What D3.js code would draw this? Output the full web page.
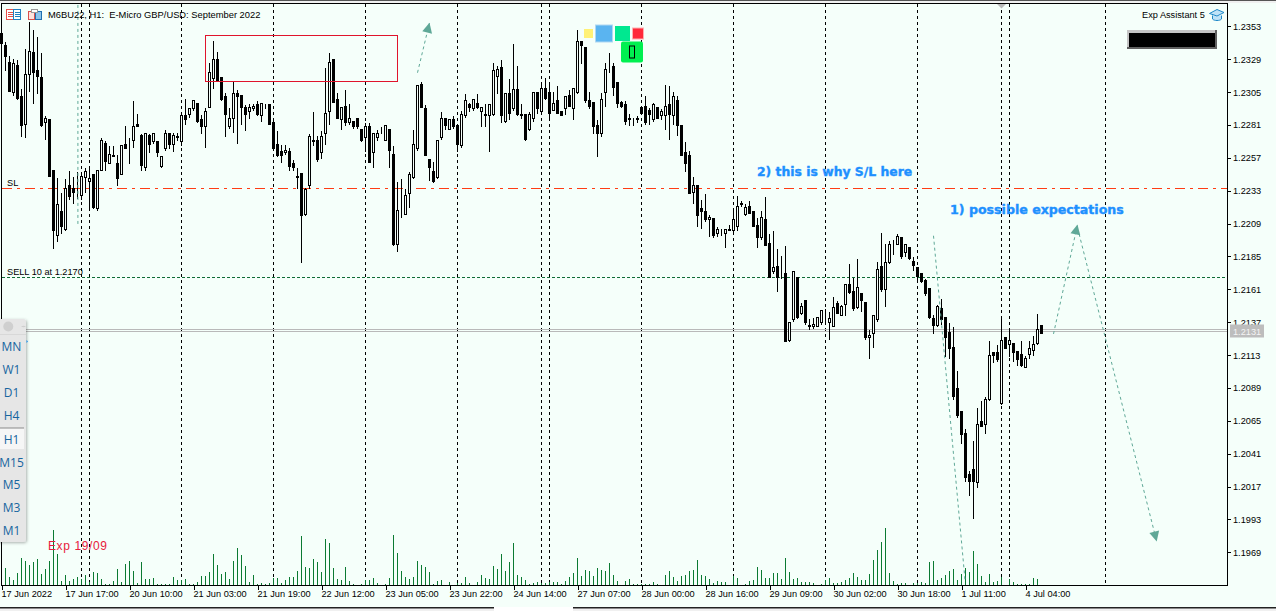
<!DOCTYPE html>
<html>
<head>
<meta charset="utf-8">
<script src="https://cdn.jsdelivr.net/npm/d3@7"></script>
<style>
  html, body { margin: 0; padding: 0; background: #f5fffa; overflow: hidden; }
  text { font-family: "Liberation Sans", sans-serif; }
</style>
</head>
<body>
<div id="chart"></div>
<script>
// Prices are in points (1 point = 0.0001), one entry per H1 bar
const opens = [
  12348,12339,12327,12305,12325,12302,12282,12318,12334,12321,
  12316,12283,12285,12248,12201,12218,12205,12237,12235,12232,
  12230,12243,12240,12245,12220,12248,12268,12253,12259,12253,
  12245,12267,12265,12270,12282,12274,12250,12274,12269,12269,
  12251,12264,12275,12267,12273,12269,12288,12289,12293,12297,
  12285,12280,12294,12315,12329,12316,12302,12280,12286,12304,
  12303,12294,12291,12293,12296,12288,12295,12296,12283,12267,
  12262,12261,12262,12253,12244,12246,12216,12237,12270,12270,
  12261,12275,12291,12329,12300,12285,12295,12283,12284,12286,
  12278,12272,12280,12261,12272,12277,12270,12278,12260,12194,
  12219,12216,12231,12243,12264,12311,12293,12256,12247,12243,
  12272,12286,12278,12285,12281,12266,12288,12296,12293,12297,
  12291,12289,12288,12289,12317,12323,12284,12304,12293,12307,
  12289,12289,12278,12286,12305,12291,12308,12305,12292,12299,
  12291,12293,12303,12293,12305,12342,12338,12299,12298,12281,
  12275,12305,12323,12324,12312,12298,12296,12286,12284,12286,
  12294,12295,12292,12285,12294,12288,12288,12296,12288,12299,
  12281,12261,12259,12232,12237,12220,12218,12212,12213,12202,
  12204,12202,12205,12204,12207,12224,12216,12222,12218,12208,
  12199,12212,12195,12174,12178,12170,12173,12124,12139,12170,
  12144,12153,12135,12134,12134,12137,12143,12137,12134,12151,
  12142,12150,12165,12160,12148,12158,12152,12126,12129,12139,
  12178,12161,12181,12194,12194,12199,12188,12192,12182,12177,
  12173,12168,12162,12140,12135,12147,12141,12130,12119,12089,
  12072,12056,12026,12030,12020,12065,12063,12081,12115,12115,
  12078,12126,12121,12122,12116,12114,12104,12114,12117,12122,12135
];
const highs = [
  12350,12342,12332,12330,12329,12308,12337,12357,12351,12346,
  12334,12288,12285,12248,12243,12232,12242,12248,12244,12247,
  12247,12250,12250,12245,12248,12272,12270,12266,12266,12260,
  12266,12281,12272,12299,12290,12275,12275,12275,12276,12270,
  12259,12278,12276,12276,12276,12289,12301,12294,12300,12298,
  12289,12294,12327,12343,12335,12316,12305,12294,12314,12307,
  12303,12296,12297,12297,12299,12297,12297,12296,12287,12277,
  12267,12267,12265,12256,12250,12246,12236,12275,12291,12274,
  12277,12323,12334,12329,12305,12294,12307,12297,12284,12286,
  12278,12283,12283,12276,12278,12280,12281,12278,12266,12240,
  12242,12235,12247,12278,12310,12313,12296,12256,12255,12270,
  12291,12286,12285,12288,12281,12292,12304,12298,12301,12304,
  12295,12297,12296,12327,12325,12329,12304,12315,12341,12325,
  12297,12289,12291,12305,12305,12312,12316,12311,12306,12310,
  12291,12302,12307,12308,12351,12342,12338,12306,12298,12285,
  12305,12327,12334,12327,12312,12299,12299,12290,12287,12288,
  12295,12303,12294,12298,12294,12293,12311,12310,12306,12303,
  12281,12269,12263,12244,12237,12227,12231,12216,12213,12207,
  12206,12205,12209,12219,12230,12226,12224,12226,12218,12214,
  12219,12229,12202,12204,12191,12186,12193,12138,12174,12170,
  12152,12154,12140,12141,12141,12146,12147,12145,12156,12153,
  12150,12165,12180,12170,12184,12158,12152,12132,12142,12182,
  12203,12195,12197,12198,12202,12199,12195,12192,12185,12177,
  12173,12169,12162,12143,12150,12155,12141,12137,12134,12102,
  12072,12060,12029,12051,12075,12080,12083,12124,12115,12121,
  12142,12127,12133,12122,12116,12124,12113,12124,12128,12144,12135
];
const lows = [
  12340,12321,12306,12303,12300,12273,12272,12306,12297,12304,
  12280,12271,12244,12191,12196,12202,12204,12227,12224,12228,
  12227,12232,12220,12220,12219,12248,12248,12253,12258,12237,
  12245,12264,12253,12265,12280,12248,12248,12261,12268,12258,
  12250,12263,12264,12262,12270,12266,12282,12287,12292,12283,
  12275,12265,12294,12308,12314,12299,12273,12279,12276,12268,
  12282,12277,12286,12292,12288,12284,12293,12282,12264,12258,
  12254,12260,12248,12248,12235,12181,12215,12235,12266,12255,
  12257,12267,12282,12298,12286,12278,12281,12282,12279,12279,
  12269,12262,12254,12250,12270,12275,12270,12250,12193,12189,
  12214,12216,12221,12242,12263,12294,12259,12241,12239,12242,
  12271,12278,12278,12279,12262,12265,12287,12291,12292,12293,
  12280,12280,12262,12288,12304,12283,12283,12285,12292,12288,
  12286,12270,12277,12284,12290,12290,12300,12285,12292,12290,
  12288,12289,12295,12285,12304,12326,12298,12293,12275,12258,
  12273,12295,12320,12303,12294,12294,12282,12281,12281,12283,
  12289,12282,12282,12284,12286,12285,12278,12271,12282,12274,
  12259,12247,12231,12224,12207,12206,12211,12200,12199,12200,
  12201,12192,12204,12203,12204,12222,12215,12217,12207,12192,
  12198,12193,12170,12173,12160,12169,12123,12123,12138,12140,
  12143,12136,12132,12133,12134,12136,12136,12125,12134,12144,
  12142,12142,12158,12146,12147,12145,12125,12111,12119,12138,
  12160,12149,12180,12187,12194,12184,12185,12183,12175,12167,
  12166,12157,12140,12129,12134,12136,12112,12111,12081,12068,
  12049,12021,12011,11994,12017,12061,12056,12080,12108,12109,
  12077,12118,12112,12109,12106,12105,12104,12111,12113,12121,12129
];
const closes = [
  12341,12331,12306,12326,12301,12281,12318,12335,12320,12317,
  12281,12286,12244,12204,12223,12207,12235,12229,12232,12232,
  12244,12247,12242,12221,12248,12270,12255,12260,12258,12242,
  12266,12264,12265,12280,12280,12252,12275,12267,12275,12261,
  12258,12275,12267,12274,12272,12288,12285,12293,12299,12284,
  12280,12291,12320,12329,12314,12300,12289,12286,12304,12302,
  12294,12289,12294,12295,12289,12297,12295,12282,12264,12259,
  12259,12263,12251,12250,12243,12215,12234,12273,12269,12256,
  12273,12290,12327,12298,12286,12294,12283,12286,12280,12280,
  12270,12280,12254,12275,12275,12277,12281,12263,12194,12219,
  12219,12230,12245,12267,12310,12294,12259,12250,12240,12270,
  12286,12281,12285,12280,12267,12289,12299,12294,12300,12294,
  12294,12288,12296,12321,12322,12288,12304,12290,12307,12289,
  12288,12271,12289,12305,12293,12308,12301,12290,12297,12290,
  12288,12302,12295,12308,12342,12339,12299,12295,12280,12275,
  12300,12322,12323,12309,12297,12295,12284,12285,12284,12285,
  12290,12283,12289,12296,12286,12291,12295,12289,12302,12281,
  12259,12253,12231,12237,12215,12218,12212,12214,12201,12205,
  12204,12205,12204,12212,12222,12223,12221,12217,12207,12199,
  12214,12193,12170,12177,12170,12170,12123,12137,12174,12141,
  12149,12137,12134,12136,12141,12146,12143,12140,12148,12144,
  12149,12165,12159,12147,12163,12153,12126,12128,12142,12176,
  12161,12181,12194,12194,12200,12185,12194,12184,12179,12171,
  12167,12158,12141,12135,12149,12139,12126,12118,12083,12069,
  12055,12024,12021,12021,12063,12061,12081,12113,12113,12110,
  12124,12118,12124,12115,12110,12106,12111,12118,12121,12132,12129
];
const volumes = [
  0,17,8,5,12,27,24,20,23,26,
  11,16,24,55,31,4,10,4,6,8,
  6,10,3,13,12,6,1,1,4,16,
  3,21,24,14,2,23,6,6,7,1,
  1,1,1,8,5,5,6,1,1,3,
  9,9,13,31,20,11,13,6,24,37,
  30,19,3,10,1,2,1,2,7,7,
  2,5,8,8,14,49,18,17,26,23,
  13,46,42,17,6,5,18,4,1,0,
  1,5,5,7,2,0,1,7,50,32,
  14,8,6,8,24,20,18,13,1,4,
  5,0,3,0,2,2,8,2,0,3,
  10,7,6,19,16,31,14,23,42,10,
  8,5,1,2,3,2,2,3,3,3,
  1,4,8,12,27,9,15,14,9,17,
  15,14,22,10,4,0,4,6,1,1,
  1,1,1,3,1,0,10,14,8,4,
  9,10,14,15,25,10,9,6,2,4,
  3,3,0,9,7,0,1,4,5,18,
  15,7,7,12,12,6,27,13,6,7,
  3,3,3,2,0,1,5,7,2,2,
  3,5,7,12,8,5,5,11,25,35,
  43,57,12,4,1,2,2,0,2,2,
  3,2,23,24,5,7,10,14,16,5,
  11,17,13,34,21,9,3,11,3,4,
  8,0,6,3,1,1,1,1,7,6,0
];

// Axis labels
const timeTicks = ["17 Jun 2022", "17 Jun 17:00", "20 Jun 10:00", "21 Jun 03:00", "21 Jun 19:00",
  "22 Jun 12:00", "23 Jun 05:00", "23 Jun 22:00", "24 Jun 14:00", "27 Jun 07:00", "28 Jun 00:00",
  "28 Jun 16:00", "29 Jun 09:00", "30 Jun 02:00", "30 Jun 18:00", "1 Jul 11:00", "4 Jul 04:00"];
const priceTicks = [1.2353, 1.2329, 1.2305, 1.2281, 1.2257, 1.2233, 1.2209, 1.2185,
  1.2161, 1.2137, 1.2113, 1.2089, 1.2065, 1.2041, 1.2017, 1.1993, 1.1969];

// Period separators, as bar numbers
const separators = [20, 22, 45, 68, 91, 114, 135, 137, 160, 183, 206, 229, 250, 252, 276];

// Levels and drawn objects, in bar number / price
const slPrice = 1.2235;
const sellPrice = 1.2170;
const lastPrice = 1.2131;
const boxBars = [51, 99];
const boxPrices = [1.23466, 1.2313];
const plainLine = [[19.1, 1.23686], [19.1, 1.22079]];
const dropLine = [[233, 1.22001], [240.9, 1.19481]];
const arrows = [
  [[104, 1.23191], [107, 1.23556]],
  [[263, 1.21284], [269, 1.22083]],
  [[269.4, 1.22014], [288.8, 1.19769]]
];

// Palette
const bg = "#f5fffa";
const volumeGreen = "#0b7a32";
const sellGreen = "#0f6b35";
const slRed = "#ff3c14";
const boxRed = "#e0142c";
const teal = "#5fa897";
const noteBlue = "#1e90ff";
const tfBlue = "#17659f";

const width = 1276;
const height = 611;
const frame = { left: 1.5, right: 1227.5, top: 3.5, bottom: 585.5 };
const labelSize = 9.2;

const svg = d3.select("#chart").append("svg")
  .attr("width", width)
  .attr("height", height)
  .style("display", "block");

// Scales
const x = d3.scaleLinear().domain([0, 1]).range([1.5, 5.5]);
const price = d3.scaleLinear().domain([1.2353, 1.1969]).range([26.3, 552.3]);
const vol = d3.scaleLinear().domain([0, d3.max(volumes)]).range([585, 585 - d3.max(volumes)]);
const row = (p) => Math.round(price(p)) + 0.5;

const bars = opens.map((o, i) => ({
  i: i, o: o / 10000, h: highs[i] / 10000, l: lows[i] / 10000, c: closes[i] / 10000, v: volumes[i]
}));

// Chrome around the plot
svg.append("rect").attr("width", width).attr("height", height).attr("fill", bg);
svg.append("rect").attr("width", width).attr("height", 3).attr("fill", "#f0f0f0");
svg.append("rect").attr("width", width).attr("height", 1).attr("fill", "#555");
svg.append("rect").attr("y", 608).attr("width", width).attr("height", 3).attr("fill", "#f0f0f0");
svg.append("rect").attr("y", 607).attr("width", 494).attr("height", 1.5).attr("fill", "#222");
svg.append("rect").attr("x", 573).attr("y", 607).attr("width", width - 573).attr("height", 1.5).attr("fill", "#222");
svg.append("rect").attr("x", 494).attr("y", 607).attr("width", 79).attr("height", 4).attr("fill", "#fff");

const plot = svg.append("g").attr("shape-rendering", "crispEdges");

// Separators
plot.append("g").selectAll("line")
  .data(separators)
  .enter().append("line")
    .attr("x1", (d) => x(d))
    .attr("x2", (d) => x(d))
    .attr("y1", frame.top)
    .attr("y2", frame.bottom)
    .attr("stroke", "#000")
    .attr("stroke-dasharray", "3 3");

// Levels
plot.append("line")
  .attr("x1", 2).attr("x2", frame.right)
  .attr("y1", row(sellPrice)).attr("y2", row(sellPrice))
  .attr("stroke", sellGreen)
  .attr("stroke-dasharray", "3 2");
plot.append("line")
  .attr("x1", 2).attr("x2", frame.right)
  .attr("y1", row(slPrice)).attr("y2", row(slPrice))
  .attr("stroke", slRed)
  .attr("stroke-dasharray", "10 5 3 5");

// Last price, drawn as a double line
[-1, 1].forEach((off) => {
  plot.append("line")
    .attr("x1", 2).attr("x2", frame.right)
    .attr("y1", row(lastPrice) + off).attr("y2", row(lastPrice) + off)
    .attr("stroke", "#b9b9b9");
});

// Volume
plot.append("g").selectAll("line")
  .data(bars)
  .enter().append("line")
    .attr("x1", (d) => x(d.i))
    .attr("x2", (d) => x(d.i))
    .attr("y1", vol(0))
    .attr("y2", (d) => vol(d.v))
    .attr("stroke", volumeGreen);

// Wicks
const candles = plot.append("g").selectAll("g")
  .data(bars)
  .enter().append("g");

candles.append("line")
  .attr("x1", (d) => x(d.i))
  .attr("x2", (d) => x(d.i))
  .attr("y1", (d) => row(d.h))
  .attr("y2", (d) => row(d.l))
  .attr("stroke", "#000");

// Bodies: bull bars hollow, bear bars solid
candles.append("rect")
  .attr("x", (d) => x(d.i) - 1)
  .attr("width", 2)
  .attr("y", (d) => row(Math.max(d.o, d.c)))
  .attr("height", (d) => row(Math.min(d.o, d.c)) - row(Math.max(d.o, d.c)))
  .attr("fill", (d) => d.c >= d.o ? bg : "#000")
  .attr("stroke", "#000");

// Box on the chart
plot.append("rect")
  .attr("x", x(boxBars[0]))
  .attr("y", row(boxPrices[0]))
  .attr("width", x(boxBars[1]) - x(boxBars[0]))
  .attr("height", row(boxPrices[1]) - row(boxPrices[0]))
  .attr("fill", "none")
  .attr("stroke", boxRed);

// Trend lines and arrows
const tealLine = (pts) => {
  svg.append("path")
    .attr("d", d3.line().x((d) => x(d[0])).y((d) => price(d[1]))(pts))
    .attr("fill", "none")
    .attr("stroke", teal)
    .attr("stroke-width", 1)
    .attr("stroke-dasharray", "3 3");
};
tealLine(plainLine);
tealLine(dropLine);
arrows.forEach((pts) => {
  tealLine(pts);
  let tx = x(pts[1][0]), ty = price(pts[1][1]);
  let a = Math.atan2(ty - price(pts[0][1]), tx - x(pts[0][0]));
  let bx = tx - 10 * Math.cos(a), by = ty - 10 * Math.sin(a);
  let nx = -Math.sin(a) * 5, ny = Math.cos(a) * 5;
  svg.append("path")
    .attr("d", `M${tx},${ty}L${bx + nx},${by + ny}L${bx - nx},${by - ny}Z`)
    .attr("fill", teal);
});

// Axes
const xAxis = d3.axisBottom(x)
  .tickValues(timeTicks.map((d, i) => i * 16))
  .tickFormat((d, i) => timeTicks[i])
  .tickSize(4);
const xG = svg.append("g")
  .attr("transform", `translate(0, ${frame.bottom})`)
  .attr("shape-rendering", "crispEdges")
  .call(xAxis);
xG.select(".domain").remove();
xG.selectAll("text")
  .attr("text-anchor", "start")
  .attr("x", -0.5)
  .attr("y", 5)
  .attr("dy", "0.71em")
  .style("font-size", labelSize + "px")
  .style("font-family", "Liberation Sans")
  .attr("fill", "#000");

const yAxis = d3.axisRight(price)
  .tickValues(priceTicks)
  .tickFormat(d3.format(".4f"))
  .tickSize(3);
const yG = svg.append("g")
  .attr("transform", `translate(${frame.right}, 0)`)
  .attr("shape-rendering", "crispEdges")
  .call(yAxis);
yG.select(".domain").remove();
yG.selectAll("text")
  .attr("x", 5.5)
  .style("font-size", labelSize + "px")
  .style("font-family", "Liberation Sans")
  .attr("fill", "#000");

// Frame
svg.append("rect")
  .attr("x", frame.left)
  .attr("y", frame.top)
  .attr("width", frame.right - frame.left)
  .attr("height", frame.bottom - frame.top)
  .attr("fill", "none")
  .attr("stroke", "#000")
  .attr("shape-rendering", "crispEdges");

// Marker on the top edge
svg.append("path").attr("d", "M997,4L1006,4L1001.5,8.5Z").attr("fill", "#b9b9b9");

// Last price tag
svg.append("rect")
  .attr("x", 1230).attr("y", row(lastPrice) - 6)
  .attr("width", 34).attr("height", 13)
  .attr("fill", "#bdbdbd");
svg.append("text")
  .attr("x", 1233).attr("y", row(lastPrice) + 4)
  .attr("font-size", labelSize)
  .attr("fill", "#f4f4f4")
  .text(d3.format(".4f")(lastPrice));

// Chart labels
const label = (txt, px, py, size, color, weight, family) => svg.append("text")
  .attr("x", px).attr("y", py)
  .attr("font-size", size)
  .attr("fill", color)
  .attr("font-weight", weight || "normal")
  .style("font-family", family || "Liberation Sans")
  .text(txt);

label("M6BU22, H1:  E-Micro GBP/USD: September 2022", 48, 18, 9.35, "#000").style("white-space", "pre");
label("Exp Assistant 5", 1142, 18, labelSize, "#000");
label("SL", 7, 186, labelSize, "#000");
label("SELL 10 at 1.2170", 7, 275, labelSize, "#000");
label("Exp 19/09", 48, 550, 12, "#e8203c").style("letter-spacing", "0.6px");
label("2) this is why S/L here", 757, 176, 12.4, noteBlue, "bold", "DejaVu Sans")
  .attr("stroke", noteBlue).attr("stroke-width", 0.4);
label("1) possible expectations", 950, 214, 12.6, noteBlue, "bold", "DejaVu Sans")
  .attr("stroke", noteBlue).attr("stroke-width", 0.4);

// Top-left toolbar icons
const icons = svg.append("g").attr("shape-rendering", "crispEdges");
icons.append("rect").attr("x", 6.5).attr("y", 9.5).attr("width", 7).attr("height", 10).attr("fill", "#fff").attr("stroke", "#e8504a");
icons.append("rect").attr("x", 13.5).attr("y", 9.5).attr("width", 7).attr("height", 10).attr("fill", "#fff").attr("stroke", "#2080c0");
[12.5, 14.5, 16.5].forEach((py) => {
  icons.append("line").attr("x1", 8).attr("x2", 13).attr("y1", py).attr("y2", py).attr("stroke", "#e8504a");
  icons.append("line").attr("x1", 15).attr("x2", 20).attr("y1", py).attr("y2", py).attr("stroke", "#2080c0");
});
icons.append("rect").attr("x", 28.5).attr("y", 11.5).attr("width", 6).attr("height", 8).attr("fill", "#fde2dc").attr("stroke", "#d8504a");
icons.append("rect").attr("x", 35.5).attr("y", 11.5).attr("width", 6).attr("height", 8).attr("fill", "#8cc4ea").attr("stroke", "#1f70b0");
icons.append("rect").attr("x", 31.5).attr("y", 9.5).attr("width", 6).attr("height", 3).attr("fill", "#fff").attr("stroke", "#9a9a9a");

// Assistant hat and black panel
svg.append("path")
  .attr("d", "M1209.5,13.5L1217,9.5L1224,12.5L1217,16Z M1212.5,15.5V19C1214,21 1220,21 1221.5,19V15.5")
  .attr("fill", "#bfe3f7").attr("stroke", "#1e88c8").attr("stroke-width", 1);
svg.append("rect").attr("x", 1127).attr("y", 30).attr("width", 90).attr("height", 19).attr("fill", "#606060");
svg.append("rect").attr("x", 1127).attr("y", 30).attr("width", 88).attr("height", 17).attr("fill", "#c4c4c4");
svg.append("rect").attr("x", 1129).attr("y", 33).attr("width", 86).attr("height", 14).attr("fill", "#000");

// Coloured buttons
const btn = (bx, by, w, h, fill, edge, r) => svg.append("rect")
  .attr("x", bx).attr("y", by).attr("width", w).attr("height", h)
  .attr("rx", r || 0)
  .attr("fill", fill).attr("stroke", edge || "none");
btn(584, 29, 9, 9, "#fff176");
btn(595.5, 25, 17, 17, "#5ab4f0", "#b0d8f2");
btn(615, 26, 15, 15, "#00e890");
btn(632.5, 28, 11, 11, "#ff2a3a", "#ffb0b0");
btn(621, 41.5, 22, 21, "#00f050", null, 2);
btn(629.5, 46, 5, 12, "none", "#000");

// Timeframe panel
const tfNames = ["MN", "W1", "D1", "H4", "H1", "M15", "M5", "M3", "M1"];
const tfRows = [347, 370, 393, 416, 440, 463, 485, 508, 531];

const defs = svg.append("defs");
const shadow = defs.append("filter").attr("id", "panelShadow").attr("x", "-30%").attr("width", "160%");
shadow.append("feDropShadow").attr("dx", 1).attr("dy", 1).attr("stdDeviation", 1.5).attr("flood-color", "#000").attr("flood-opacity", 0.3);

svg.append("rect")
  .attr("x", -6).attr("y", 319)
  .attr("width", 32).attr("height", 223)
  .attr("rx", 3)
  .attr("fill", "#e6e6e6")
  .attr("filter", "url(#panelShadow)");
svg.append("line").attr("x1", 0).attr("x2", 26).attr("y1", 334.5).attr("y2", 334.5).attr("stroke", "#d8d8d8");
svg.append("circle").attr("cx", 8.3).attr("cy", 326.5).attr("r", 5).attr("fill", "#cfcfcf");
svg.append("path").attr("d", "M26,326.5 A5,5 0 0 0 21,326.5 A5,5 0 0 0 26,326.5").attr("fill", "#cfcfcf");
svg.append("path").attr("d", "M26.5,340L28,341.5L26.5,343Z").attr("fill", "#1e90f0");
svg.append("rect").attr("x", 0).attr("y", 428).attr("width", 24).attr("height", 21).attr("fill", "#f6f6f6");
svg.append("rect").attr("x", 0).attr("y", 427.5).attr("width", 24).attr("height", 1).attr("fill", "#8a8a8a");

svg.append("g").selectAll("text")
  .data(tfNames)
  .enter().append("text")
    .attr("x", 11.5)
    .attr("y", (d, i) => tfRows[i] + 4)
    .attr("text-anchor", "middle")
    .attr("font-size", 12)
    .attr("fill", tfBlue)
    .style("font-family", "Open Sans")
    .text((d) => d);
</script>
</body>
</html>
